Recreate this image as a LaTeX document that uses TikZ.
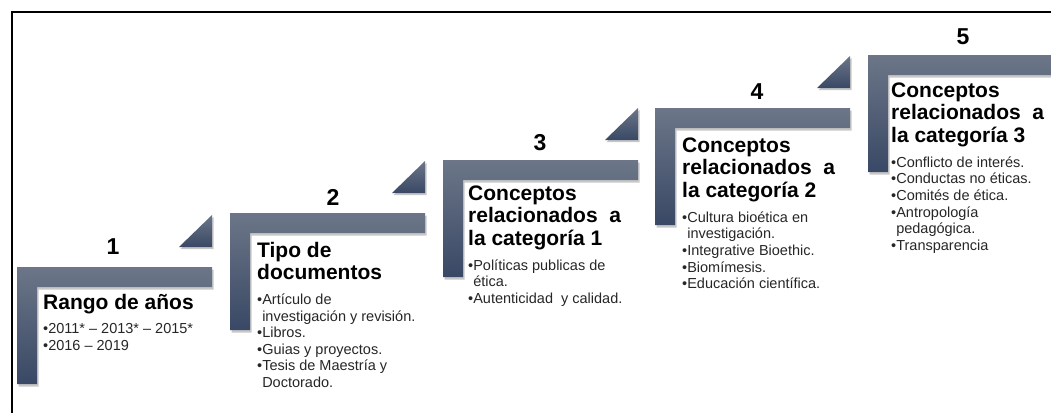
\documentclass[tikz,border=0pt]{standalone}
\usepackage{fontspec}
\setmainfont{Liberation Sans}
\definecolor{barTop}{RGB}{108,118,136}
\definecolor{barBot}{RGB}{57,72,101}
\definecolor{txtgray}{RGB}{38,38,38}
\newcommand{\bl}{•}
\newcommand{\ind}{\phantom{•}}
\newcommand{\stepbody}[2]{\begin{minipage}[t]{200pt}\raggedright
  {\fontsize{21}{22.8}\selectfont\bfseries #1\par}\vspace{8pt}%
  {\fontsize{14.5}{16.6}\selectfont\color{txtgray}#2\par}\end{minipage}}
\begin{document}
\begin{tikzpicture}[x=1pt,y=-1pt,
  lbar/.style={top color=barTop,bottom color=barBot,draw=none},
  shadowfill/.style={fill=black,opacity=0.22,draw=none},
  num/.style={font=\fontsize{23}{23}\selectfont\bfseries,inner sep=0},
  body/.style={inner sep=0,anchor=base west,text=black}]
\useasboundingbox (0,0) rectangle (1051,413);
\begin{scope}
\clip (0,0) rectangle (1051,413);
\foreach \i/\X/\Y in {1/17/267,2/230/213,3/443/160,4/655/108,5/868/55}{
  \fill[shadowfill] (\X+1.5,\Y+2.5) -- ++(195,0) -- ++(0,20) -- ++(-175,0) -- ++(0,97) -- ++(-20,0) -- cycle;
  \shade[lbar] (\X,\Y) -- ++(195,0) -- ++(0,20) -- ++(-175,0) -- ++(0,97) -- ++(-20,0) -- cycle;
  \ifnum\i<5
    \fill[shadowfill] (\X+195-33+1.5,\Y-20+2) -- ++(33,0) -- ++(0,-32) -- cycle;
    \shade[lbar] (\X+195-33,\Y-20) -- ++(33,0) -- ++(0,-32) -- cycle;
  \fi
}
\end{scope}
\draw[line width=1.2pt] (12,413) -- (12,12) -- (1051,12);

\node[num] (n1) at (113,247) {1};
\node[num] (n2) at (333,197) {2};
\node[num] (n3) at (540,143) {3};
\node[num] (n4) at (757,92) {4};
\node[num] (n5) at (963,37) {5};

\node[body] (c1) at (43,309) {\stepbody{Rango de años}{\bl2011* – 2013* – 2015*\\ \bl2016 – 2019}};
\node[body] (c2) at (257,257) {\stepbody{Tipo de\\documentos}{\bl Artículo de\\ \ind investigación y revisión.\\ \bl Libros.\\ \bl Guias y proyectos.\\ \bl Tesis de Maestría y\\ \ind Doctorado.}};
\node[body] (c3) at (468,200) {\stepbody{Conceptos\\relacionados\ \ a\\la categoría 1}{\bl Políticas publicas de\\ \ind ética.\\ \bl Autenticidad\ \ y calidad.}};
\node[body] (c4) at (682,152) {\stepbody{Conceptos\\relacionados\ \ a\\la categoría 2}{\bl Cultura bioética en\\ \ind investigación.\\ \bl Integrative Bioethic.\\ \bl Biomímesis.\\ \bl Educación científica.}};
\node[body] (c5) at (891,97) {\stepbody{Conceptos\\relacionados\ \ a\\la categoría 3}{\bl Conflicto de interés.\\ \bl Conductas no éticas.\\ \bl Comités de ética.\\ \bl Antropología\\ \ind pedagógica.\\ \bl Transparencia}};
\end{tikzpicture}
\end{document}
